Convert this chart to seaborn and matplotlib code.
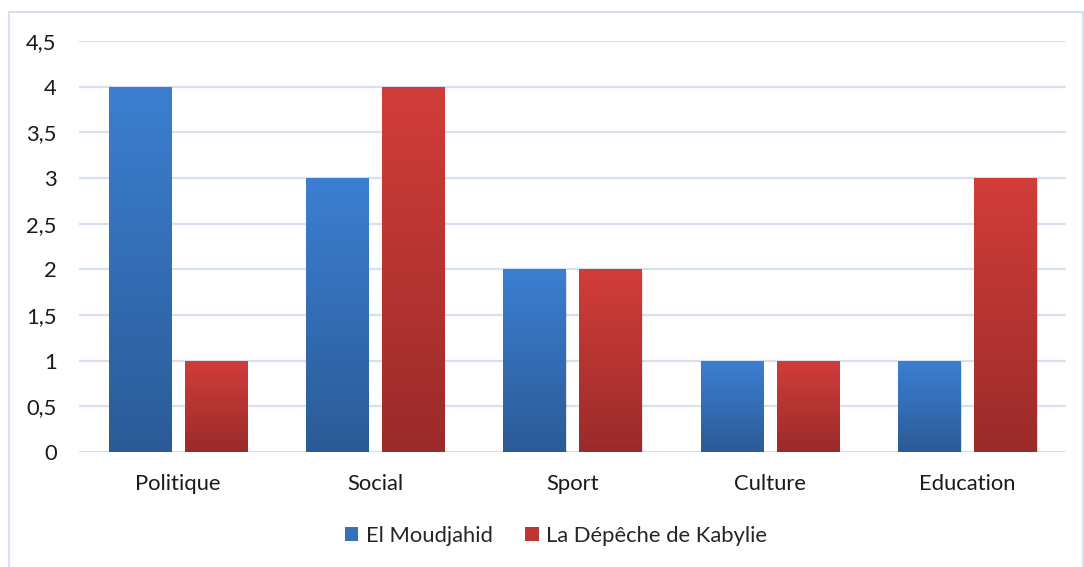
import numpy as np
import pandas as pd
import matplotlib
matplotlib.use("Agg")
import matplotlib.pyplot as plt
import seaborn as sns
from matplotlib.colors import LinearSegmentedColormap
from matplotlib.patches import Rectangle, Patch

categories = ["Politique", "Social", "Sport", "Culture", "Education"]
series_names = ["El Moudjahid", "La Dépêche de Kabylie"]
el_moudjahid = [4, 3, 2, 1, 1]
depeche = [1, 4, 2, 1, 3]
y_ticks = [0, 0.5, 1, 1.5, 2, 2.5, 3, 3.5, 4, 4.5]
y_tick_labels = ["0", "0,5", "1", "1,5", "2", "2,5", "3", "3,5", "4", "4,5"]

df = pd.DataFrame({
    "cat": categories * 2,
    "serie": [series_names[0]] * 5 + [series_names[1]] * 5,
    "val": el_moudjahid + depeche,
})

sns.set_theme(style="white")
plt.rcParams["font.family"] = ["Lato", "DejaVu Sans"]

fig = plt.figure(figsize=(10.84, 5.67), dpi=100)
ax = fig.add_axes([79 / 1084, 1 - 452 / 567, (1066 - 79) / 1084, (452 - 41) / 567])

blue_top, blue_bot = "#3c7fd1", "#2b5b97"
red_top, red_bot = "#d23d39", "#9a2b2a"
palette = {series_names[0]: "#3470bb", series_names[1]: "#be3633"}

sns.barplot(data=df, x="cat", y="val", hue="serie", order=categories,
            hue_order=series_names, palette=palette, width=0.77, gap=0.18,
            ax=ax, legend=False, saturation=1, zorder=3)

ax.set_ylim(0, 4.5)
ax.set_xlim(-0.5, 4.5)
ax.set_yticks(y_ticks)
ax.set_yticklabels(y_tick_labels)
ax.set_xlabel("")
ax.set_ylabel("")
for s in ax.spines.values():
    s.set_visible(False)
ax.grid(axis="y", color="#d6e0ef", linewidth=1.6, zorder=0)
ax.grid(axis="x", visible=False)
fs = 15.8
ax.tick_params(axis="y", length=0, pad=16, labelsize=fs, labelcolor="#1a1a1a")
ax.tick_params(axis="x", length=0, pad=16, labelsize=fs, labelcolor="#1a1a1a")

# gradient fills clipped to bars (per-bar gradient, bright at top)
cmaps = [LinearSegmentedColormap.from_list("b", [blue_bot, blue_top]),
         LinearSegmentedColormap.from_list("r", [red_bot, red_top])]
grad = np.linspace(0, 1, 256).reshape(-1, 1)
bars = list(ax.patches)
for i, p in enumerate(bars):
    cmap = cmaps[0] if i < len(categories) else cmaps[1]
    x0, y0 = p.get_x(), p.get_y()
    w, h = p.get_width(), p.get_height()
    sh = Rectangle((x0 + 0.006, y0 - 0.03), w, h, facecolor="#000000", alpha=0.12,
                   edgecolor="none", zorder=2.5)
    ax.add_patch(sh)
    im = ax.imshow(grad, extent=[x0, x0 + w, y0, y0 + h], origin="lower",
                   cmap=cmap, aspect="auto", zorder=3.5, vmin=0, vmax=1)
    im.set_clip_path(p)
    p.set_edgecolor("none")
ax.set_xlim(-0.5, 4.5)
ax.set_ylim(0, 4.5)

# chart border
fig.patches.append(Rectangle((9 / 1084, -0.01), (1083 - 9) / 1084, (567 - 12) / 567 + 0.01,
                             transform=fig.transFigure, fill=False,
                             edgecolor="#d6e0ef", linewidth=1.5))

handles = [Patch(facecolor=palette[s], edgecolor="none") for s in series_names]
fig.legend(handles, series_names, loc="center", bbox_to_anchor=(556 / 1084, 1 - 536 / 567),
           ncol=2, frameon=False, fontsize=fs, handlelength=0.6, handleheight=0.6,
           handletextpad=0.35, columnspacing=1.5)

fig.savefig("out.png", dpi=100)
